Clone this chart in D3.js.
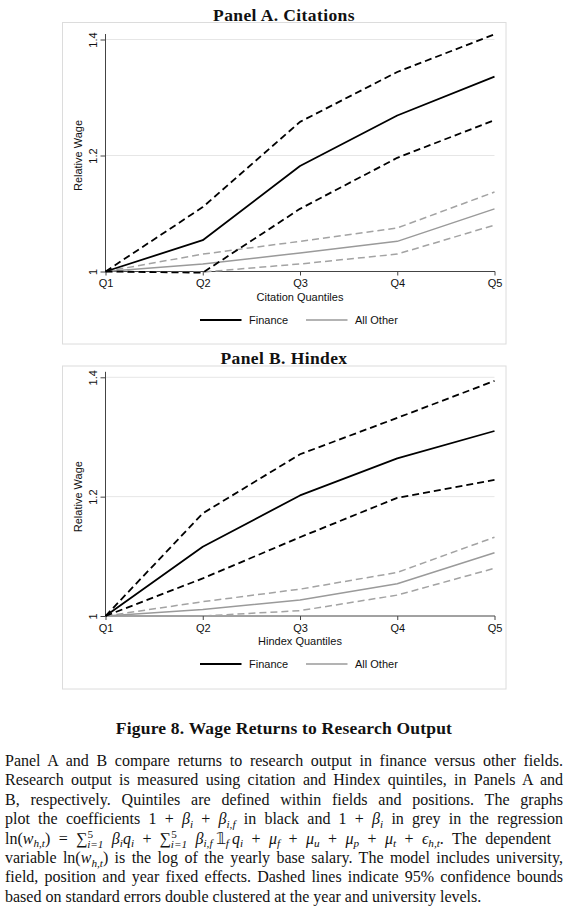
<!DOCTYPE html>
<html><head><meta charset="utf-8">
<script src="https://cdn.jsdelivr.net/npm/d3@7"></script>
<style>body{margin:0;background:#fff;} svg{display:block;}</style>
</head><body>
<svg id="chart" width="572" height="909"></svg>
<script>
// ---------------- DATA ----------------
const quantiles = ["Q1", "Q2", "Q3", "Q4", "Q5"];
const yTicks = [1, 1.2, 1.4];
const yTickLabels = ["1", "1.2", "1.4"];
const legendLabels = ["Finance", "All Other"];

// Panel A. Citations
const citFinance      = [1, 1.054, 1.182, 1.269, 1.336];
const citFinanceUpper = [1, 1.111, 1.258, 1.344, 1.409];
const citFinanceLower = [1, 0.998, 1.108, 1.196, 1.261];
const citOther        = [1, 1.013, 1.032, 1.052, 1.108];
const citOtherUpper   = [1, 1.030, 1.052, 1.075, 1.137];
const citOtherLower   = [1, 0.999, 1.013, 1.030, 1.080];

// Panel B. Hindex
const hixFinance      = [1, 1.116, 1.202, 1.264, 1.310];
const hixFinanceUpper = [1, 1.172, 1.271, 1.332, 1.394];
const hixFinanceLower = [1, 1.063, 1.132, 1.198, 1.228];
const hixOther        = [1, 1.011, 1.027, 1.054, 1.106];
const hixOtherUpper   = [1, 1.024, 1.045, 1.073, 1.132];
const hixOtherLower   = [1, 1.000, 1.009, 1.035, 1.080];

// ---------------- STYLE / LAYOUT ----------------
const SANS = "'Liberation Sans', Arial, Helvetica, sans-serif";
const SERIF = "'Liberation Serif', 'Times New Roman', serif";
const styles = {
  fin:  {color: "#000", width: 1.8, dash: null},
  finD: {color: "#000", width: 1.8, dash: "7,4"},
  oth:  {color: "#9a9a9a", width: 1.5, dash: null},
  othD: {color: "#a3a3a3", width: 1.5, dash: "7,4"}
};

const panels = [
  {title: "Panel A. Citations", xTitle: "Citation Quantiles",
   series: [[citOtherUpper, "othD"], [citOtherLower, "othD"], [citOther, "oth"],
            [citFinanceUpper, "finD"], [citFinanceLower, "finD"], [citFinance, "fin"]],
   frameTop: 22.5, frameBottom: 344, yTop: 39.5, yBottom: 271.5, titleY: 20.5, legendY: 320},
  {title: "Panel B. Hindex", xTitle: "Hindex Quantiles",
   series: [[hixOtherUpper, "othD"], [hixOtherLower, "othD"], [hixOther, "oth"],
            [hixFinanceUpper, "finD"], [hixFinanceLower, "finD"], [hixFinance, "fin"]],
   frameTop: 366, frameBottom: 689, yTop: 377.3, yBottom: 616, titleY: 363.5, legendY: 664}
];

const svg = d3.select("#chart");
svg.append("rect").attr("width", 572).attr("height", 909).attr("fill", "#fff");

const xLeft = 105.5, xRight = 494.5;
const x = d3.scalePoint().domain(quantiles).range([xLeft, xRight]);

panels.forEach(p => {
  const g = svg.append("g");
  // frame
  g.append("rect").attr("x", 62.5).attr("y", p.frameTop).attr("width", 443.5)
    .attr("height", p.frameBottom - p.frameTop).attr("fill", "#fff")
    .attr("stroke", "#dcdcdc").attr("stroke-width", 1);
  // title
  svg.append("text").attr("x", 284).attr("y", p.titleY).attr("text-anchor", "middle")
    .attr("font-family", SERIF).attr("font-weight", "bold").attr("font-size", 17.5)
    .attr("letter-spacing", 0.4).attr("fill", "#111").text(p.title);

  const y = d3.scaleLinear().domain([1, 1.4]).range([p.yBottom, p.yTop]);

  // grid
  g.selectAll(".grid").data(yTicks.filter(d => d > 1)).enter().append("line")
    .attr("x1", xLeft).attr("x2", xRight)
    .attr("y1", d => y(d)).attr("y2", d => y(d))
    .attr("stroke", "#e6e6e6").attr("stroke-width", 1);

  // x axis
  const xa = g.append("g").attr("transform", `translate(0,${p.yBottom})`)
    .call(d3.axisBottom(x).tickSize(4).tickSizeOuter(0).tickPadding(4));
  xa.select(".domain").remove();
  xa.selectAll("line").attr("stroke", "#444");
  xa.selectAll("text").attr("font-family", SANS).attr("font-size", 11).attr("fill", "#111");
  g.append("line").attr("x1", xLeft - 0.5).attr("x2", xRight + 0.5)
    .attr("y1", p.yBottom).attr("y2", p.yBottom).attr("stroke", "#444").attr("stroke-width", 1);

  // y axis
  const ya = g.append("g").attr("transform", `translate(${xLeft},0)`)
    .call(d3.axisLeft(y).tickValues(yTicks).tickFormat((d, i) => yTickLabels[i]).tickSize(5).tickSizeOuter(0));
  ya.select(".domain").remove();
  ya.selectAll("line").attr("stroke", "#444");
  ya.selectAll("text").attr("transform", "rotate(-90)").attr("x", 0).attr("y", -9)
    .attr("dy", 0).attr("text-anchor", "middle")
    .attr("font-family", SANS).attr("font-size", 11).attr("fill", "#111");
  g.append("line").attr("x1", xLeft).attr("x2", xLeft)
    .attr("y1", p.yTop - 5.5).attr("y2", p.yBottom + 0.5).attr("stroke", "#444").attr("stroke-width", 1);

  // axis titles
  const yMid = (p.yTop + p.yBottom) / 2;
  g.append("text").attr("transform", `translate(82,${yMid}) rotate(-90)`)
    .attr("text-anchor", "middle").attr("font-family", SANS).attr("font-size", 11)
    .attr("fill", "#111").text("Relative Wage");
  g.append("text").attr("x", (xLeft + xRight) / 2).attr("y", p.yBottom + 29.2)
    .attr("text-anchor", "middle").attr("font-family", SANS).attr("font-size", 11)
    .attr("fill", "#111").text(p.xTitle);

  // series
  const line = d3.line().x((d, i) => x(quantiles[i])).y(d => y(d));
  p.series.forEach(([vals, key]) => {
    const s = styles[key];
    g.append("path").attr("d", line(vals)).attr("fill", "none")
      .attr("stroke", s.color).attr("stroke-width", s.width)
      .attr("stroke-dasharray", s.dash).attr("stroke-linejoin", "round");
  });

  // legend
  const legendItems = [
    {label: legendLabels[0], s: styles.fin, x1: 200, x2: 241.5, tx: 249},
    {label: legendLabels[1], s: styles.oth, x1: 306, x2: 347.5, tx: 355}
  ];
  legendItems.forEach(li => {
    g.append("line").attr("x1", li.x1).attr("x2", li.x2)
      .attr("y1", p.legendY).attr("y2", p.legendY)
      .attr("stroke", li.s.color).attr("stroke-width", li.s.width);
    g.append("text").attr("x", li.tx).attr("y", p.legendY + 4)
      .attr("font-family", SANS).attr("font-size", 11).attr("fill", "#111").text(li.label);
  });
});

// ---------------- CAPTION ----------------
svg.append("text").attr("x", 284).attr("y", 734).attr("text-anchor", "middle")
  .attr("font-family", SERIF).attr("font-weight", "bold").attr("font-size", 17.5)
  .attr("letter-spacing", 0.2).attr("fill", "#111").text("Figure 8. Wage Returns to Research Output");

const TH = "\u2009";
const captionLines = [
  [["Panel A and B compare returns to research output in finance versus other fields.", "r"]],
  [["Research output is measured using citation and Hindex quintiles, in Panels A and", "r"]],
  [["B, respectively. Quintiles are defined within fields and positions. The graphs", "r"]],
  [["plot the coefficients 1 + ", "r"], ["β", "i"], ["i", "sub"], [" + ", "r"], ["β", "i"], ["i,f", "sub"],
   [" in black and 1 + ", "r"], ["β", "i"], ["i", "sub"], [" in grey in the regression", "r"]],
  [["ln(", "r"], ["w", "i"], ["h,t", "sub"], [") = ", "r"], ["∑", "r"], ["5", "sup"], ["i=1", "subst"], [" ", "r"],
   ["β", "i"], ["i", "sub"], ["q", "i"], ["i", "sub"], [" + ", "r"], ["∑", "r"], ["5", "sup"], ["i=1", "subst"], [" ", "r"],
   ["β", "i"], ["i,f", "sub"], [TH + "𝟙", "r"], ["f", "sub"], [TH + "q", "i"], ["i", "sub"], [" + ", "r"],
   ["μ", "i"], ["f", "sub"], [" + ", "r"], ["μ", "i"], ["u", "sub"], [" + ", "r"], ["μ", "i"], ["p", "sub"], [" + ", "r"],
   ["μ", "i"], ["t", "sub"], [" + ", "r"], ["ϵ", "i"], ["h,t", "sub"], [". The dependent", "r"]],
  [["variable ln(", "r"], ["w", "i"], ["h,t", "sub"], [") is the log of the yearly base salary. The model includes university,", "r"]],
  [["field, position and year fixed effects. Dashed lines indicate 95% confidence bounds", "r"]],
  [["based on standard errors double clustered at the year and university levels.", "r"]]
];

const capLeft = 5, capWidth = 558, capY0 = 766, capDY = 19.4;
captionLines.forEach((segs, li) => {
  const t = svg.append("text").attr("x", capLeft).attr("y", capY0 + li * capDY)
    .attr("font-family", SERIF).attr("font-size", 16).attr("fill", "#111");
  let cur = 0;
  let spaces = 0;
  segs.forEach(([str, st]) => {
    let off = 0, small = false, italic = false, dx = null;
    if (st === "i") italic = true;
    if (st === "sub") { off = 3.5; small = true; italic = true; }
    if (st === "sup") { off = -6; small = true; }
    if (st === "subst") { off = 4; small = true; italic = true; dx = -6; }
    const ts = t.append("tspan").text(str);
    if (off !== cur) ts.attr("dy", off - cur);
    if (dx !== null) ts.attr("dx", dx);
    cur = off;
    if (small) ts.attr("font-size", "70%");
    if (italic) ts.attr("font-style", "italic");
    spaces += (str.match(/ /g) || []).length;
  });
  if (li < captionLines.length - 1) {
    const natural = t.node().getComputedTextLength();
    const ws = (capWidth - natural) / Math.max(1, spaces);
    t.attr("word-spacing", ws.toFixed(2));
  }
});
</script>
</body></html>
